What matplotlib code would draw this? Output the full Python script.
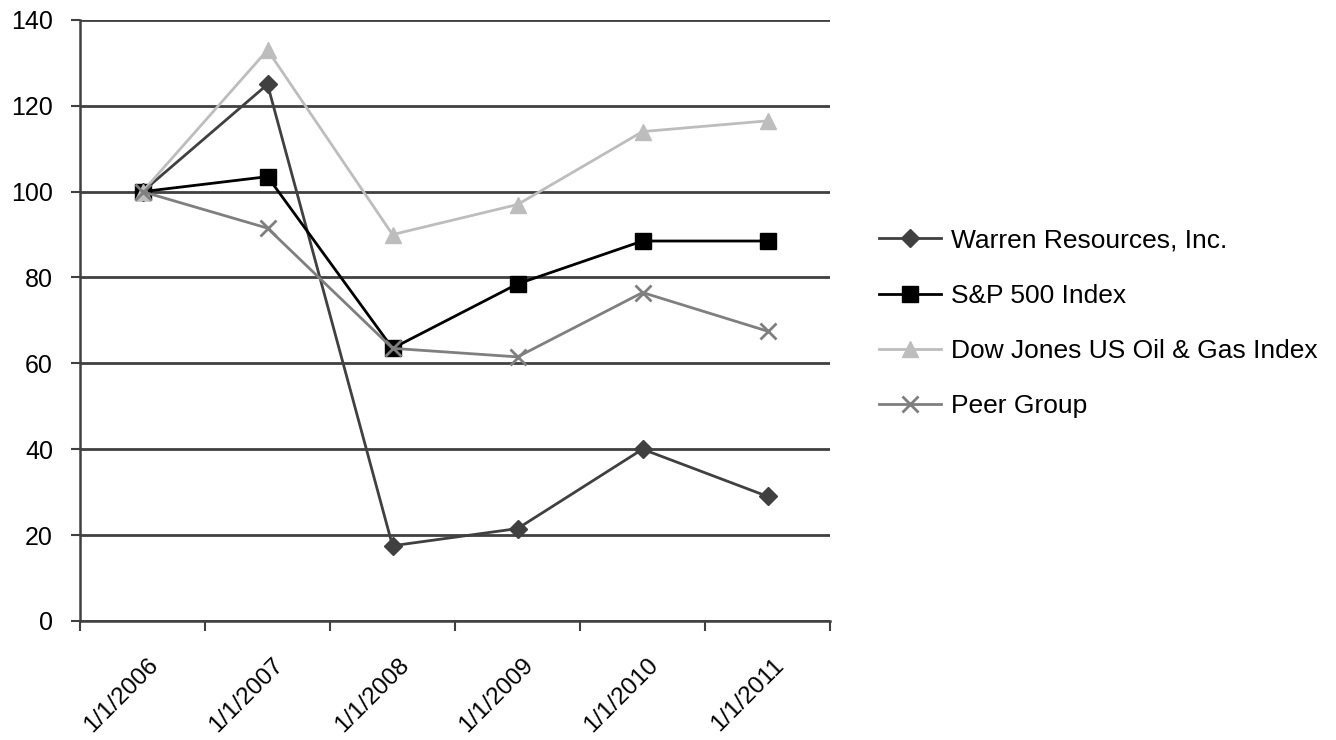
import matplotlib.pyplot as plt
from matplotlib.transforms import ScaledTranslation

# Data
dates = ['1/1/2006', '1/1/2007', '1/1/2008', '1/1/2009', '1/1/2010', '1/1/2011']
warren = [100, 125, 17.5, 21.5, 40, 29]
sp500 = [100, 103.5, 63.5, 78.5, 88.5, 88.5]
dow_oil = [100, 133, 90, 97, 114, 116.5]
peer = [100, 91.5, 63.5, 61.5, 76.5, 67.5]

plt.rcParams['font.family'] = ['Liberation Sans', 'DejaVu Sans']

fig = plt.figure(figsize=(13.36, 7.4), dpi=100)
ax = fig.add_axes([0.0599, 0.161, 0.5614, 0.812])

x = range(len(dates))
ax.plot(x, warren, color='#404040', lw=2, marker='D', ms=9, label='Warren Resources, Inc.')
ax.plot(x, sp500, color='black', lw=2, marker='s', ms=12, label='S&P 500 Index')
ax.plot(x, dow_oil, color='#bdbdbd', lw=2, marker='^', ms=11, label='Dow Jones US Oil & Gas Index')
ax.plot(x, peer, color='#7f7f7f', lw=2, marker='x', ms=11, mew=2, label='Peer Group')

ax.set_ylim(0, 140)
ax.set_yticks(range(0, 141, 20))
ax.set_xlim(-0.5, len(dates) - 0.5)
ax.set_xticks(list(x))
ax.set_xticklabels(dates, rotation=45, ha='right', va='top', rotation_mode='anchor')
ax.set_xticks([i - 0.5 for i in range(len(dates) + 1)], minor=True)
ax.tick_params(axis='x', which='major', length=0, pad=24, labelsize=17.5)
ax.tick_params(axis='x', which='minor', length=7, width=1.5, color='#404040', direction='out')
ax.tick_params(axis='y', length=6.5, width=1.5, color='#404040', labelsize=18, pad=13)

# nudge the rotated labels a little to the right
shift = ScaledTranslation(5 / 100, 0, fig.dpi_scale_trans)
for lbl in ax.get_xticklabels():
    lbl.set_transform(lbl.get_transform() + shift)

ax.grid(axis='y', color='#404040', lw=2)
ax.set_axisbelow(True)
for side in ['top', 'right']:
    ax.spines[side].set_visible(False)
for side in ['left', 'bottom']:
    ax.spines[side].set_color('#404040')
    ax.spines[side].set_linewidth(1.8)

fig.legend(loc='center left', bbox_to_anchor=(0.640, 0.563), frameon=False,
           fontsize=19, handlelength=2.35, handletextpad=0.4, labelspacing=1.18)

fig.savefig('out.png', dpi=100)
